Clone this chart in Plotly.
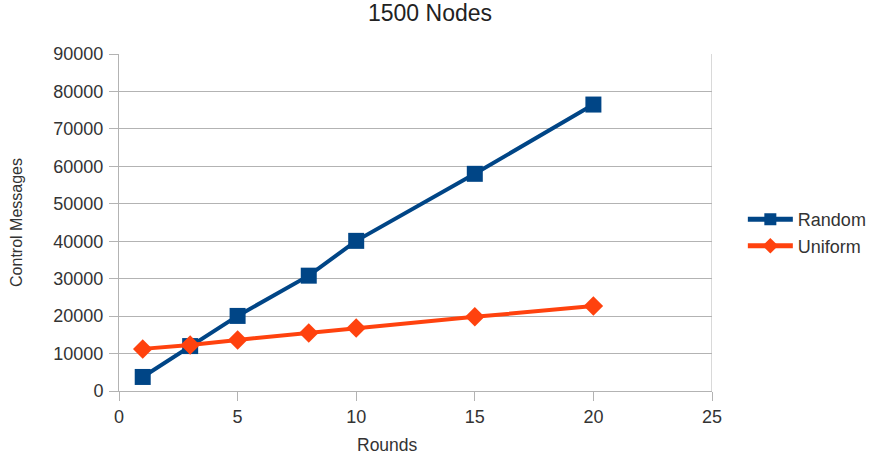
import plotly.graph_objects as go

rounds = [1, 3, 5, 8, 10, 15, 20]
random_msgs = [3750, 12000, 20050, 30800, 40100, 58000, 76500]
uniform_msgs = [11250, 12300, 13650, 15500, 16800, 19800, 22700]

fig = go.Figure()
fig.add_trace(go.Scatter(x=rounds, y=random_msgs, name="Random", mode="lines+markers",
                         line=dict(color="#004586", width=4),
                         marker=dict(symbol="square", size=16, color="#004586")))
fig.add_trace(go.Scatter(x=rounds, y=uniform_msgs, name="Uniform", mode="lines+markers",
                         line=dict(color="#ff420e", width=4),
                         marker=dict(symbol="diamond", size=15, color="#ff420e")))

fig.update_layout(
    width=871, height=459,
    margin=dict(l=119, r=159, t=54, b=68, autoexpand=False),
    paper_bgcolor="white", plot_bgcolor="white",
    font=dict(family="Liberation Sans, Arial, sans-serif", size=18, color="#333333"),
    title=dict(text="1500 Nodes", x=430 / 871, xanchor="center", xref="container",
               y=1 - 13 / 459, yanchor="middle", yref="container", automargin=False,
               font=dict(size=23, color="#222222")),
    xaxis=dict(range=[0, 25], tick0=0, dtick=5, showgrid=False, showline=True,
               linecolor="#b3b3b3", linewidth=1, ticks="outside", ticklen=9, tickcolor="#b3b3b3",
               zeroline=False, automargin=False, tickfont=dict(size=18)),
    yaxis=dict(range=[0, 90000], tick0=0, dtick=10000, showgrid=True, gridcolor="#b3b3b3",
               showline=True, linecolor="#b3b3b3", linewidth=1, ticks="outside", ticklen=9,
               tickcolor="#b3b3b3", zeroline=False, tickformat="d", automargin=False,
               ticklabelstandoff=2, tickfont=dict(size=18),
               title=dict(text="Control Messages", standoff=26, font=dict(size=16))),
    legend=dict(x=1.052, y=0.470, xanchor="left", yanchor="middle", font=dict(size=18),
                tracegroupgap=0, itemwidth=45, itemsizing="constant"),
    showlegend=True,
)
fig.add_annotation(text="Rounds", xref="paper", yref="paper", x=(387 - 119) / 593,
                   y=(391 - 445) / 337, xanchor="center", yanchor="middle",
                   showarrow=False, font=dict(size=17.5, color="#333333"))
# right border line of plot area
fig.add_shape(type="line", xref="x", yref="paper", x0=25, x1=25, y0=0, y1=1,
              line=dict(color="#b3b3b3", width=1), layer="below")

fig.write_html("out.html", config={"displayModeBar": False},
               post_script="document.body.style.margin='0';")
